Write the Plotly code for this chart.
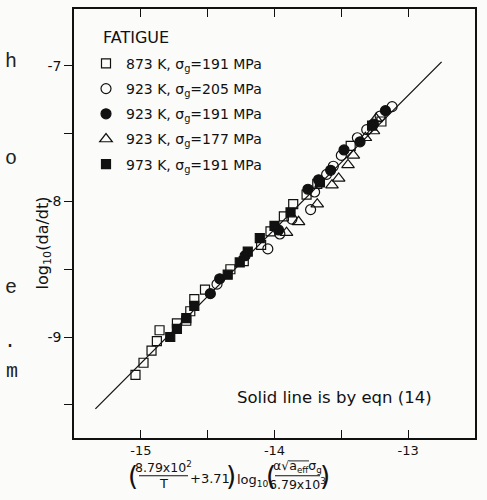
import plotly.graph_objects as go

# ---------------- data ----------------
sq_open_x = [-15.04, -14.98, -14.92, -14.88, -14.86, -14.73, -14.66, -14.63, -14.60, -14.52,
             -14.33, -14.23, -14.10, -14.03, -13.93, -13.86, -13.76, -13.68, -13.43, -13.20]
sq_open_y = [-9.28, -9.19, -9.10, -9.03, -8.95, -8.90, -8.88, -8.81, -8.72, -8.65,
             -8.50, -8.44, -8.32, -8.22, -8.11, -8.02, -7.95, -7.87, -7.59, -7.41]

ci_open_x = [-14.43, -14.05, -13.96, -13.87, -13.73, -13.70, -13.61, -13.56, -13.50, -13.38,
             -13.31, -13.21, -13.12]
ci_open_y = [-8.61, -8.35, -8.24, -8.13, -8.06, -7.93, -7.80, -7.74, -7.66, -7.53,
             -7.47, -7.37, -7.30]

ci_fill_x = [-14.48, -14.41, -14.22, -13.97, -13.75, -13.67, -13.58, -13.48, -13.36, -13.26, -13.17]
ci_fill_y = [-8.68, -8.57, -8.40, -8.21, -7.91, -7.84, -7.77, -7.62, -7.56, -7.43, -7.33]

tri_x = [-13.91, -13.82, -13.68, -13.57, -13.52, -13.45, -13.41, -13.32, -13.26, -13.24]
tri_y = [-8.23, -8.15, -8.02, -7.88, -7.83, -7.73, -7.66, -7.53, -7.48, -7.39]

sq_fill_x = [-14.78, -14.73, -14.66, -14.60, -14.35, -14.26, -14.20, -14.11, -14.00, -13.88, -13.66, -13.27]
sq_fill_y = [-9.00, -8.94, -8.86, -8.77, -8.54, -8.45, -8.37, -8.27, -8.18, -8.08, -7.86, -7.44]

eqn_x = [-15.34, -12.75]
eqn_y = [-9.53, -6.97]

series_names = ["873 K, σ<sub>g</sub>=191 MPa", "923 K, σ<sub>g</sub>=205 MPa",
                "923 K, σ<sub>g</sub>=191 MPa", "923 K, σ<sub>g</sub>=177 MPa",
                "973 K, σ<sub>g</sub>=191 MPa"]

x_tickvals = [-15, -14.5, -14, -13.5, -13]
x_ticktext = ["-15", "", "-14", "", "-13"]
y_tickvals = [-9.5, -9, -8.5, -8, -7.5, -7]
y_ticktext = ["", "-9", "", "-8", "", "-7"]

# ---------------- figure ----------------
W, H = 487, 500
L, R, T, B = 74, 475, 7, 438
FONT = "DejaVu Sans"
INK = "#111111"
BG = "#fbfbf9"


def px(xp):
    return (xp - L) / (R - L)


def py(yp):
    return (B - yp) / (B - T)


fig = go.Figure()

fig.add_trace(go.Scatter(x=eqn_x, y=eqn_y, mode="lines", line=dict(color=INK, width=1.3),
                         showlegend=False, hoverinfo="skip"))

styles = [
    (sq_open_x, sq_open_y, "square-open", 9),
    (ci_open_x, ci_open_y, "circle-open", 10),
    (ci_fill_x, ci_fill_y, "circle", 10),
    (tri_x, tri_y, "triangle-up-open", 11),
    (sq_fill_x, sq_fill_y, "square", 9),
]
for i, (xs, ys, sym, sz) in enumerate(styles):
    fig.add_trace(go.Scatter(
        x=xs, y=ys, mode="markers", name=series_names[i], legendgroup=str(i),
        marker=dict(symbol=sym, size=sz, color=INK, line=dict(color=INK, width=1.2)),
    ))

fig.update_layout(
    width=W, height=H,
    margin=dict(l=L, r=W - R, t=T, b=H - B),
    paper_bgcolor=BG, plot_bgcolor="rgba(0,0,0,0)",
    font=dict(family=FONT, color=INK, size=14),
    showlegend=True,
    legend=dict(
        x=px(86), y=py(46), xanchor="left", yanchor="top",
        bgcolor="rgba(0,0,0,0)", borderwidth=0,
        font=dict(size=14, family=FONT), tracegroupgap=4,
    ),
    xaxis=dict(range=[-15.5, -12.5], tickvals=x_tickvals, ticktext=x_ticktext,
               ticks="inside", ticklen=8, tickwidth=1.3, tickcolor=INK,
               showline=True, linewidth=1.6, linecolor=INK, mirror="ticks",
               showgrid=False, zeroline=False, tickfont=dict(size=13, family=FONT)),
    yaxis=dict(range=[-9.745, -6.58], tickvals=y_tickvals, ticktext=y_ticktext,
               ticks="outside", ticklen=8, tickwidth=1.3, tickcolor=INK,
               showline=True, linewidth=1.6, linecolor=INK, mirror=True,
               showgrid=False, zeroline=False, tickfont=dict(size=14, family=FONT)),
    yaxis2=dict(range=[-9.745, -6.58], overlaying="y", anchor="x", side="left",
                tickvals=y_tickvals, ticks="inside", ticklen=7, tickwidth=1.3, tickcolor=INK,
                showticklabels=False, showline=True, linewidth=1.6, linecolor=INK,
                mirror="ticks", showgrid=False, zeroline=False),
)

ann = []
# legend heading
ann.append(dict(x=px(101), y=py(36), xref="paper", yref="paper", xanchor="left", yanchor="middle",
                text="FATIGUE", showarrow=False, font=dict(size=16, family=FONT)))
# y-axis title
ann.append(dict(x=px(31), y=py(242), xref="paper", yref="paper", text="log<sub>10</sub>(da/dt)",
                textangle=-90, showarrow=False, font=dict(size=16, family=FONT)))
# note
ann.append(dict(x=px(235), y=py(397), xref="paper", yref="paper", xanchor="left", yanchor="middle",
                text="Solid line is by eqn (14)", showarrow=False, font=dict(size=16.5, family=FONT)))


# x-axis title pieces (typeset expression)
def t(xp, yp, s, size=13, xanchor="center"):
    ann.append(dict(x=px(xp), y=py(yp), xref="paper", yref="paper", xanchor=xanchor,
                    yanchor="middle", text=s, showarrow=False, font=dict(size=size, family=FONT)))


t(133, 476, "(", size=26)
t(163, 467, "8.79x10<sup>2</sup>", size=12.5)
t(163, 484, "T")
t(210, 479, "+3.71")
t(231, 476, ")", size=26)
t(253, 481, "log<sub>10</sub>")
t(271, 476, "(", size=26)
t(297, 467, "α√a<sub>eff</sub>σ<sub>g</sub>", size=12.5)
t(297, 484, "6.79x10<sup>3</sup>", size=12.5)
t(325, 476, ")", size=26)

# edge fragments of the surrounding page text
for (xp, yp, s) in [(3, 46, "h"), (3, 157, "o"), (3, 300, "e"), (2, 355, "."), (4, 385, "m")]:
    ann.append(dict(x=px(xp), y=py(yp), xref="paper", yref="paper", text=s, showarrow=False,
                    font=dict(size=20, family="Liberation Mono", color="#222")))

fig.update_layout(annotations=ann)

# fraction bars and the radical's vinculum
for (x0, x1, yb, w) in [(139, 188, 476, 1.1), (275, 320, 476, 1.1), (289, 309, 461, 0.9)]:
    fig.add_shape(type="line", xref="paper", yref="paper", x0=px(x0), x1=px(x1),
                  y0=py(yb), y1=py(yb), line=dict(color=INK, width=w))

fig.write_html(
    "out.html",
    config={"displayModeBar": False},
    post_script="document.body.style.margin='0';document.body.style.background='" + BG + "';",
)
